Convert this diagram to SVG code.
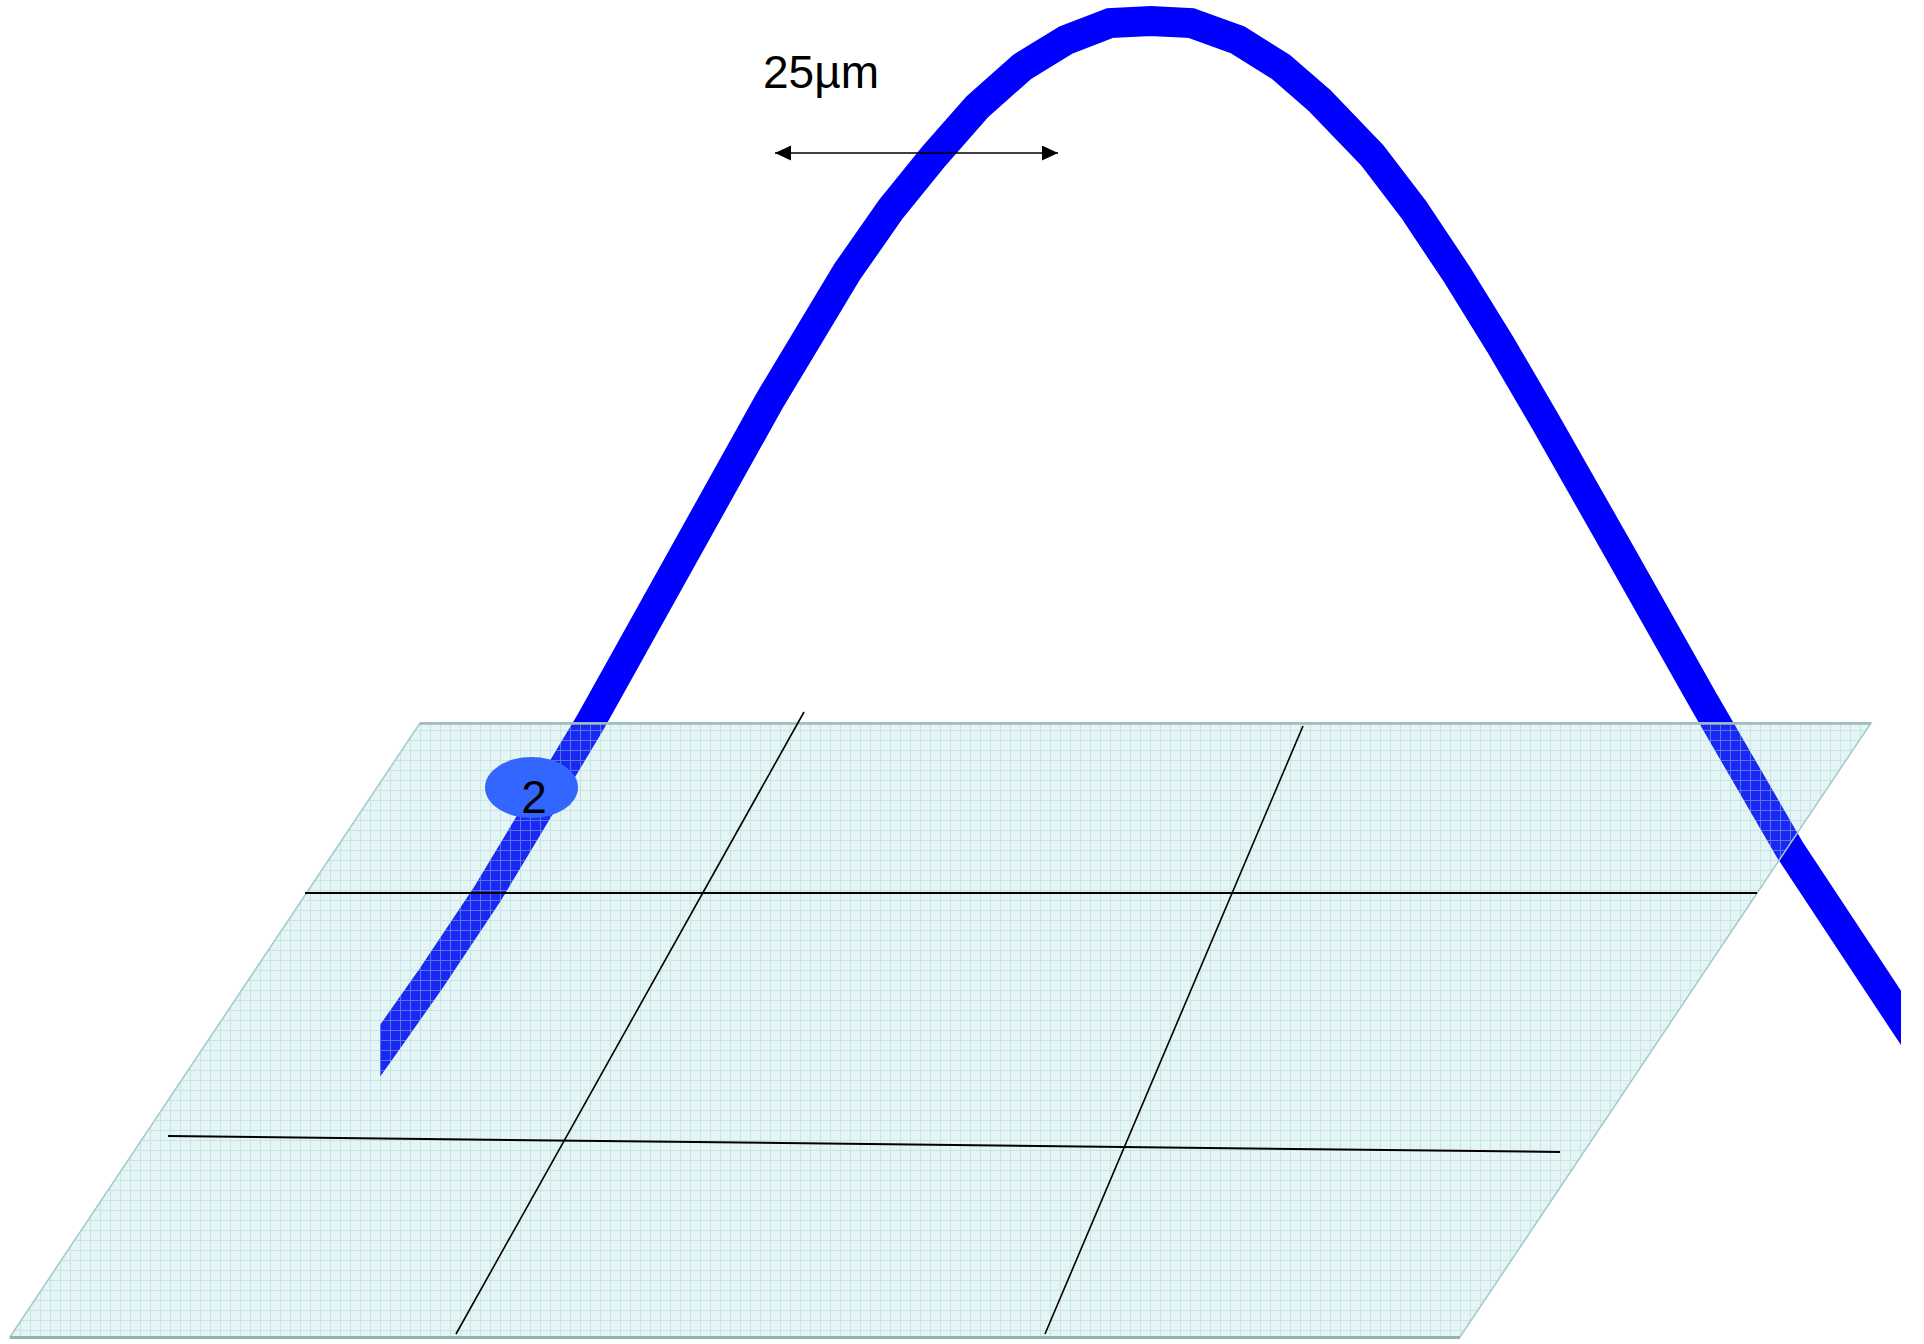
<svg xmlns="http://www.w3.org/2000/svg" width="1924" height="1344" viewBox="0 0 1924 1344">
  <style>
    .band { fill: none; stroke: #0000ff; stroke-width: 30; stroke-linejoin: miter; stroke-miterlimit: 10; }
    .gline { stroke: #000; stroke-width: 1.6; fill: none; }
    .gline-h { stroke: #000; stroke-width: 2; fill: none; }
    .label { font-family: "Liberation Sans", Arial, sans-serif; font-size: 46px; fill: #000; }
  </style>
  <defs>
    <pattern id="gridpat" patternUnits="userSpaceOnUse" x="0" y="0" width="10" height="10">
      <rect x="0" y="0" width="10" height="10" fill="rgb(125,198,198)" fill-opacity="0.2"/>
      <rect x="0" y="0" width="10" height="1" fill="rgb(160,210,210)" fill-opacity="0.45"/>
      <rect x="0" y="1" width="1" height="9" fill="rgb(160,210,210)" fill-opacity="0.45"/>
    </pattern>
    <clipPath id="bandclip">
      <rect x="380" y="0" width="1521" height="1344"/>
    </clipPath>
    <marker id="arrowhead" markerUnits="userSpaceOnUse" markerWidth="17" markerHeight="16" refX="16" refY="7.5" orient="auto-start-reverse" viewBox="0 0 17 16">
      <path d="M0,0 L16,7.5 L0,15 z" fill="#000"/>
    </marker>
  </defs>
  <rect x="0" y="0" width="1924" height="1344" fill="#fff"/>

  <g id="curve" clip-path="url(#bandclip)">
    <polyline class="band" points="345,1100 380,1051 430,980 488,893 590,723 770,400 847,272 891,209 934,156 977,107 1022,67 1066,40 1110,23 1151,21 1191,23 1238,40 1281,67 1320,101 1372,155 1414,210 1458,276 1500,344 1545,421 1624,560 1703,700 1790,850 1901,1018 1935,1069"/>
  </g>

  <g id="plane">
    <polygon points="420,723 1871,723 1460,1337 10,1337" fill="url(#gridpat)" stroke="#a6c8c8" stroke-width="1.5"/>
    <line x1="420" y1="723.5" x2="1871" y2="723.5" stroke="#9dbcbc" stroke-width="2.5"/>
    <line x1="10" y1="1337.5" x2="1460" y2="1337.5" stroke="#93b3b3" stroke-width="3"/>
  </g>

  <g id="connectors">
    <line class="gline-h" x1="305" y1="893" x2="1757" y2="893"/>
    <line class="gline-h" x1="168" y1="1136" x2="1560" y2="1152"/>
    <line class="gline" x1="804" y1="712" x2="456" y2="1334"/>
    <line class="gline" x1="1303" y1="726" x2="1045" y2="1334"/>
  </g>

  <g id="node-2">
    <ellipse cx="531.5" cy="787.5" rx="46.5" ry="30.5" fill="#3366ff"/>
    <text class="label" x="534" y="813" text-anchor="middle">2</text>
  </g>

  <g id="scale">
    <line x1="775" y1="153" x2="1058" y2="153" stroke="#000" stroke-width="1.6" marker-start="url(#arrowhead)" marker-end="url(#arrowhead)"/>
    <text class="label" x="763" y="88">25µm</text>
  </g>
</svg>
